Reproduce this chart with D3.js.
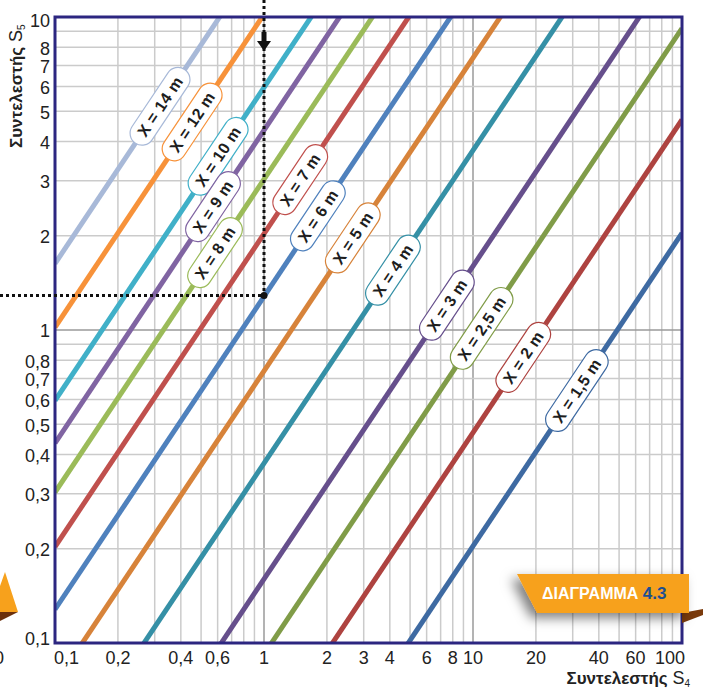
<!DOCTYPE html>
<html>
<head>
<meta charset="utf-8">
<title>Διάγραμμα 4.3</title>
<script src="https://cdn.jsdelivr.net/npm/d3@7"></script>
<style>
  body { margin: 0; background: #fff; }
  svg { display: block; font-family: "Liberation Sans", Arial, sans-serif; }
</style>
</head>
<body>
<div id="chart"></div>
<script>
// distance X (m) for each line, and the S5/S4 ratio
var distances = ["14", "12", "10", "9", "8", "7", "6", "5", "4", "3", "2,5", "2", "1,5"];
var ratios = [16.3, 10.2, 5.95, 4.35, 3.03, 2.03, 1.28, 0.74, 0.375, 0.16, 0.092, 0.047, 0.0204];
// S4 value where each label sits on its line
var labelS4 = [0.318, 0.453, 0.603, 0.57, 0.583, 1.49, 1.81, 2.66, 4.14, 7.5, 11.0, 17.4, 31.4];
var lineColors = ["#a8b9d8", "#f7923a", "#40b0c8", "#8064a2", "#9bbb59", "#c0504d", "#4f81bd",
                  "#d7833a", "#3590a6", "#664f8c", "#809c48", "#ae4340", "#3e6aa2"];

var xTickLabels = [0.1, 0.2, 0.4, 0.6, 1, 2, 3, 4, 6, 8, 10, 20, 40, 60, 100];
var yTickLabels = [0.1, 0.2, 0.3, 0.4, 0.5, 0.6, 0.7, 0.8, 1, 2, 3, 4, 5, 6, 7, 8, 10];

// worked example: S4 = 1 gives S5 about 1.29
var exampleS4 = 1, exampleS5 = 1.29;

var W = 703, H = 688;
var margin = {top: 17, right: 21, bottom: 45, left: 55};

var svg = d3.select("#chart").append("svg")
  .attr("width", W).attr("height", H);

var x = d3.scaleLog().domain([0.1, 100]).range([margin.left, W - margin.right]);
var y = d3.scaleLog().domain([0.1, 10]).range([H - margin.bottom, margin.top]);

var fmt = function(v) { return String(v).replace(".", ","); };

var defs = svg.append("defs");
defs.append("clipPath").attr("id", "plot")
  .append("rect")
  .attr("x", x.range()[0]).attr("y", y.range()[1])
  .attr("width", x.range()[1] - x.range()[0])
  .attr("height", y.range()[0] - y.range()[1]);

var sh = defs.append("filter").attr("id", "shadow")
  .attr("x", "-30%").attr("y", "-40%").attr("width", "160%").attr("height", "190%");
sh.append("feDropShadow").attr("dx", -6).attr("dy", 5).attr("stdDeviation", 6)
  .attr("flood-color", "#000").attr("flood-opacity", 0.5);

// grid
var grid = svg.append("g");
grid.selectAll("line.gx").data(x.ticks()).join("line")
  .attr("x1", d => x(d)).attr("x2", d => x(d))
  .attr("y1", y.range()[1]).attr("y2", y.range()[0])
  .attr("stroke", d => (d === 1 || d === 10) ? "#9a9a9a" : "#cbcbcb")
  .attr("stroke-width", 1.5);
grid.selectAll("line.gy").data(y.ticks()).join("line")
  .attr("y1", d => y(d)).attr("y2", d => y(d))
  .attr("x1", x.range()[0]).attr("x2", x.range()[1])
  .attr("stroke", d => d === 1 ? "#9a9a9a" : "#cbcbcb")
  .attr("stroke-width", 1.5);

// lines S5 = k * S4
var line = d3.line().x(d => x(d[0])).y(d => y(d[1]));
svg.append("g").attr("clip-path", "url(#plot)")
  .selectAll("path").data(ratios).join("path")
  .attr("d", k => line([[0.1, k * 0.1], [100, k * 100]]))
  .attr("fill", "none")
  .attr("stroke", (k, i) => lineColors[i])
  .attr("stroke-width", 5);

// frame
svg.append("rect")
  .attr("x", x.range()[0]).attr("y", y.range()[1])
  .attr("width", x.range()[1] - x.range()[0])
  .attr("height", y.range()[0] - y.range()[1])
  .attr("fill", "none").attr("stroke", "#2c2680").attr("stroke-width", 3);

// labels on lines
var angle = Math.atan2(y(10) - y(1), x(10) - x(1)) * 180 / Math.PI;
var labels = svg.append("g").selectAll("g").data(ratios).join("g")
  .attr("transform", (k, i) => "translate(" + x(labelS4[i]) + "," + y(k * labelS4[i]) + ") rotate(" + angle + ")");
labels.each(function(k, i) {
  var g = d3.select(this);
  var r = g.append("rect");
  var t = g.append("text")
    .attr("text-anchor", "middle").attr("dy", "0.36em")
    .attr("font-size", 16).attr("font-weight", "bold").attr("fill", "#1e1e1e")
    .attr("letter-spacing", 0.4)
    .text("X = " + distances[i] + " m");
  var w = t.node().getComputedTextLength() + 20, h = 24;
  r.attr("x", -w / 2).attr("y", -h / 2).attr("width", w).attr("height", h)
    .attr("rx", h / 2).attr("fill", "#fff")
    .attr("stroke", lineColors[i]).attr("stroke-width", 1.2);
});

// worked example: dotted guides
var ex = x(exampleS4), ey = y(exampleS5);
svg.append("line").attr("x1", ex).attr("x2", ex).attr("y1", 0).attr("y2", ey)
  .attr("stroke", "#111").attr("stroke-width", 3).attr("stroke-dasharray", "3,3");
svg.append("line").attr("x1", 0).attr("x2", ex).attr("y1", ey).attr("y2", ey)
  .attr("stroke", "#111").attr("stroke-width", 3).attr("stroke-dasharray", "3,3");
svg.append("rect").attr("x", ex - 2.5).attr("y", 32).attr("width", 5).attr("height", 12).attr("fill", "#111");
svg.append("path").attr("d", "M" + (ex - 7) + ",41 L" + (ex + 7) + ",41 L" + ex + ",51 Z").attr("fill", "#111");
svg.append("circle").attr("cx", ex).attr("cy", ey).attr("r", 3.5).attr("fill", "#111");

// tick labels
svg.append("g").selectAll("text").data(yTickLabels).join("text")
  .attr("x", margin.left - 5).attr("y", d => y(d) + (d === 0.1 ? -4 : d === 10 ? 4 : 1))
  .attr("dy", "0.35em").attr("text-anchor", "end")
  .attr("font-size", 18).attr("fill", "#222")
  .text(fmt);
svg.append("g").selectAll("text").data(xTickLabels).join("text")
  .attr("x", d => d === 0.1 ? x(d) - 1 : d === 100 ? x(d) + 3 : x(d))
  .attr("y", 664)
  .attr("text-anchor", d => d === 0.1 ? "start" : d === 100 ? "end" : "middle")
  .attr("font-size", 18).attr("fill", "#222")
  .text(fmt);

// axis titles
var yt = svg.append("text").attr("transform", "translate(22,148) rotate(-90)")
  .attr("fill", "#222");
yt.append("tspan").attr("font-weight", "bold").attr("font-size", 17).text("Συντελεστής ");
yt.append("tspan").attr("font-size", 18).text("S");
yt.append("tspan").attr("font-size", 10).attr("dy", 3).text("5");

var xt = svg.append("text").attr("x", 690).attr("y", 684).attr("text-anchor", "end")
  .attr("fill", "#222");
xt.append("tspan").attr("font-weight", "bold").attr("font-size", 17).text("Συντελεστής ");
xt.append("tspan").attr("font-size", 18).text("S");
xt.append("tspan").attr("font-size", 10).attr("dy", 3).text("4");

// badge
svg.append("path").attr("d", "M682,613 L703,609 L703,615 L682,623 Z").attr("fill", "#7a3a0c");
svg.append("path").attr("d", "M517,574 L689,574 L689,613 L537,613 Z")
  .attr("fill", "#f7a11c").attr("filter", "url(#shadow)");
var bt = svg.append("text").attr("x", 542).attr("y", 599)
  .attr("font-size", 16).attr("font-weight", "bold");
bt.append("tspan").attr("fill", "#fff").text("ΔΙΑΓΡΑΜΜΑ ");
bt.append("tspan").attr("fill", "#1d4f91").attr("font-size", 17).text("4.3");

// neighbouring badge, cut off at the left edge
svg.append("path").attr("d", "M0,612 L18,612 L0,621 Z").attr("fill", "#6b300c");
svg.append("path").attr("d", "M0,586 L5,572 L18,612 L0,612 Z").attr("fill", "#f7a11c");
svg.append("text").attr("x", -6).attr("y", 664).attr("font-size", 18).attr("fill", "#222").text("0");
</script>
</body>
</html>
